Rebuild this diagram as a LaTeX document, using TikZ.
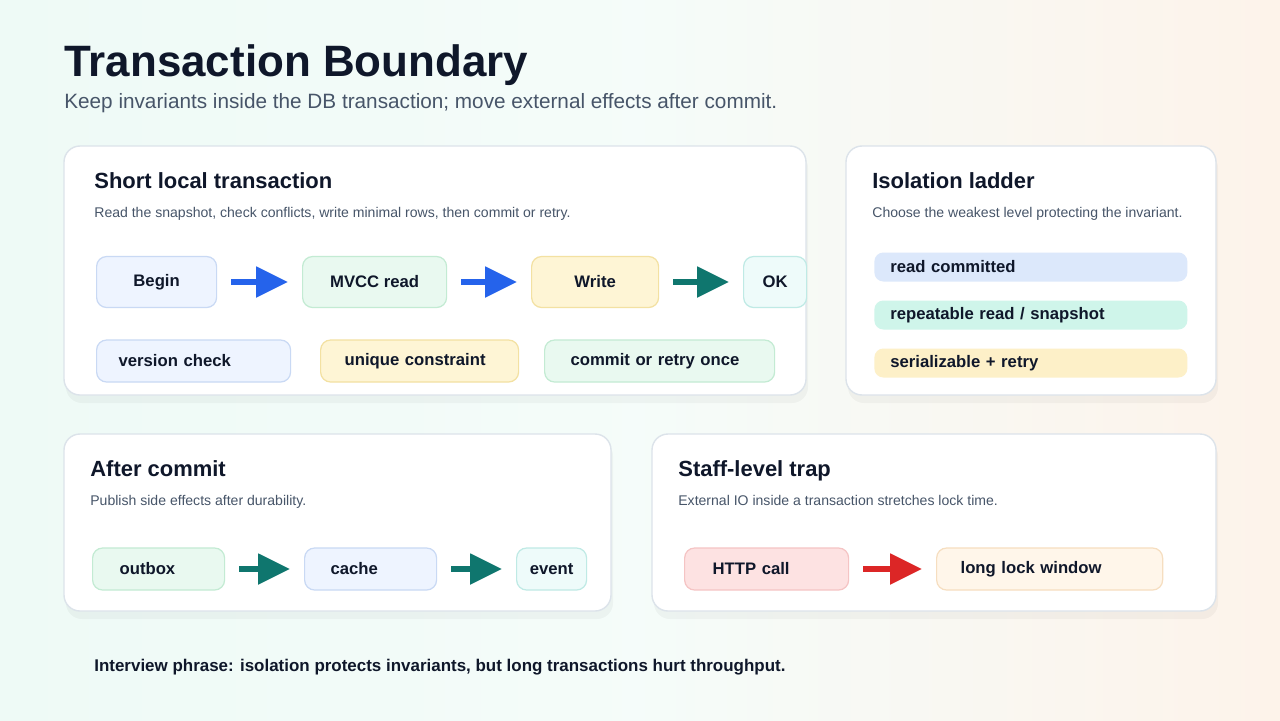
\documentclass[tikz,border=0pt]{standalone}
\usepackage{fontspec}
\setmainfont{Liberation Sans}
\usepackage{tikz}
\usetikzlibrary{arrows.meta}
\definecolor{ink}{HTML}{0F172A}
\definecolor{sub}{HTML}{475569}
\definecolor{edge}{HTML}{DCE3EA}
\definecolor{bluefill}{HTML}{EEF4FF}\definecolor{blueline}{HTML}{C9D9F4}
\definecolor{greenfill}{HTML}{E9F9F0}\definecolor{greenline}{HTML}{C3EBD3}
\definecolor{yellowfill}{HTML}{FEF5D5}\definecolor{yellowline}{HTML}{F3E1A2}
\definecolor{cyanfill}{HTML}{EEFBFA}\definecolor{cyanline}{HTML}{BFEAE5}
\definecolor{redfill}{HTML}{FDE2E2}\definecolor{redline}{HTML}{F5C4C4}
\definecolor{orangefill}{HTML}{FFF6EA}\definecolor{orangeline}{HTML}{F6DEC0}
\definecolor{barblue}{HTML}{DCE8FB}\definecolor{barteal}{HTML}{CFF5EA}\definecolor{baryellow}{HTML}{FDF0C8}
\definecolor{arrblue}{HTML}{2563EB}\definecolor{arrteal}{HTML}{0F766E}\definecolor{arrred}{HTML}{DC2626}
\definecolor{bgmint}{HTML}{EEFAF6}\definecolor{bgpeach}{HTML}{FDF3EA}
\tikzset{
    card/.style={draw=edge, fill=white, rounded corners=16*0.02cm, line width=0.8pt},
    cardtitle/.style={anchor=base west, font=\fontsize{12.5}{14}\selectfont\bfseries, text=ink, inner sep=0pt},
    cardsub/.style={anchor=base west, font=\fontsize{8}{9}\selectfont, text=sub, inner sep=0pt},
    pill/.style={draw=#1line, fill=#1fill, rounded corners=10*0.02cm, line width=0.7pt,
        font=\fontsize{9.5}{11}\selectfont\bfseries, text=ink, anchor=west},
    step/.style={pill=#1, minimum height=51*0.02cm, inner xsep=0pt},
    tag/.style={pill=#1, minimum height=42*0.02cm, inner xsep=24*0.02cm, align=left},
    bar/.style={fill=#1, draw=none, rounded corners=9*0.02cm, anchor=west, minimum height=29*0.02cm,
        text width=281*0.02cm, inner xsep=16*0.02cm, align=left,
        font=\fontsize{9.5}{11}\selectfont\bfseries, text=ink},
    flow/.style={-{Triangle[length=32*0.02cm, width=30*0.02cm]}, line width=3pt, #1, shorten <=14*0.02cm, shorten >=14*0.02cm}
}
\begin{document}
\begin{tikzpicture}[x=0.02cm, y=-0.02cm]
\shade[left color=bgmint, right color=bgpeach, middle color=bgmint!60!white] (0,0) rectangle (1280,720);
\useasboundingbox (0,0) rectangle (1280,720);

% Heading
\node[anchor=base west, inner sep=0pt, font=\fontsize{25}{28}\selectfont\bfseries, text=ink] (title) at (64,76) {Transaction Boundary};
\node[anchor=base west, inner sep=0pt, font=\fontsize{11.8}{14}\selectfont, text=sub] (subtitle) at (64,108) {Keep invariants inside the DB transaction; move external effects after commit.};

% Cards
\foreach \xa/\ya/\xb/\yb in {64/146/806/395, 846/146/1216/395, 64/434/611/611, 652/434/1216/611} {
    \fill[black, opacity=0.035, rounded corners=16*0.02cm] (\xa+2,\ya+6) rectangle (\xb+2,\yb+8);
    \draw[card] (\xa,\ya) rectangle (\xb,\yb);
}

% Short local transaction
\node[cardtitle] (t1) at (94,188) {Short local transaction};
\node[cardsub] (s1) at (94,217) {Read the snapshot, check conflicts, write minimal rows, then commit or retry.};
\node[step=blue, minimum width=120*0.02cm] (begin) at (96,282) {Begin};
\node[step=green, minimum width=144*0.02cm] (mvcc) at (302,282) {MVCC read};
\node[step=yellow, minimum width=127*0.02cm] (write) at (531,282) {Write};
\node[step=cyan, minimum width=63*0.02cm] (ok) at (743,282) {OK};
\draw[flow=arrblue] (begin) -- (mvcc);
\draw[flow=arrblue] (mvcc) -- (write);
\draw[flow=arrteal] (write) -- (ok);
\node[tag=blue, text width=150*0.02cm, inner xsep=22*0.02cm] (version) at (96,361) {version check};
\node[tag=yellow, text width=150*0.02cm] (unique) at (320,361) {unique constraint};
\node[tag=green, text width=178*0.02cm, inner xsep=26*0.02cm] (commit) at (544,361) {commit or retry once};

% Isolation ladder
\node[cardtitle] (t2) at (872,188) {Isolation ladder};
\node[cardsub] (s2) at (872,217) {Choose the weakest level protecting the invariant.};
\node[bar=barblue] (rc) at (874,267) {read committed};
\node[bar=barteal] (rr) at (874,315) {repeatable read / snapshot};
\node[bar=baryellow] (ser) at (874,363) {serializable + retry};

% After commit
\node[cardtitle] (t3) at (90,476) {After commit};
\node[cardsub] (s3) at (90,505) {Publish side effects after durability.};
\node[tag=green, text width=78*0.02cm, inner xsep=27*0.02cm] (outbox) at (92,569) {outbox};
\node[tag=blue, text width=80*0.02cm, inner xsep=26*0.02cm] (cache) at (304,569) {cache};
\node[tag=cyan, text width=70*0.02cm, inner xsep=0pt, align=center] (event) at (516,569) {event};
\draw[flow=arrteal] (outbox) -- (cache);
\draw[flow=arrteal] (cache) -- (event);

% Staff-level trap
\node[cardtitle] (t4) at (678,476) {Staff-level trap};
\node[cardsub] (s4) at (678,505) {External IO inside a transaction stretches lock time.};
\node[tag=red, text width=108*0.02cm, inner xsep=28*0.02cm] (http) at (684,569) {HTTP call};
\node[tag=orange, text width=178*0.02cm] (lock) at (936,569) {long lock window};
\draw[flow=arrred] (http) -- (lock);

% Footer
\node[anchor=base west, inner sep=0pt, font=\fontsize{9.65}{11}\selectfont\bfseries, text=ink] (phrase) at (94,671) {Interview phrase: isolation protects invariants, but long transactions hurt throughput.};
\end{tikzpicture}
\end{document}
